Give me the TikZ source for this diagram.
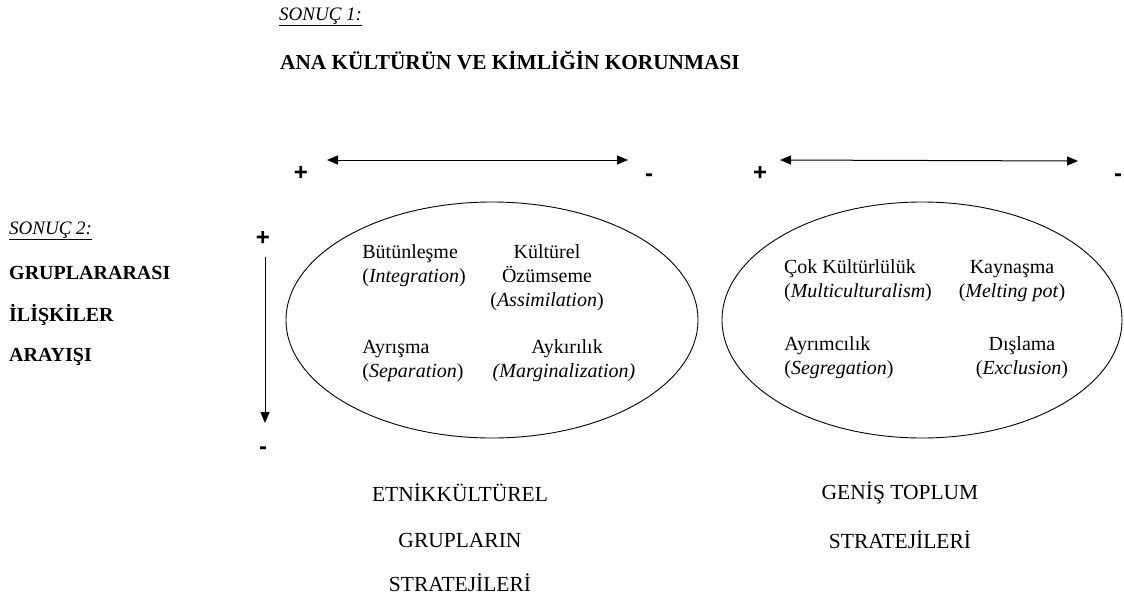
\documentclass[tikz,border=0pt]{standalone}
\usepackage{fontspec}
\setmainfont{Liberation Serif}
\newfontfamily\signfont{Liberation Sans}
\usetikzlibrary{arrows.meta}
\begin{document}
\begin{tikzpicture}[x=1pt,y=-1pt,
  lbl/.style={inner sep=0pt,font=\fontsize{20}{24}\selectfont,align=center},
  head/.style={inner sep=0pt,anchor=west,font=\fontsize{19}{22}\selectfont},
  bold/.style={head,font=\bfseries\fontsize{20}{22}\selectfont},
  bottom/.style={inner sep=0pt,font=\fontsize{21.5}{24}\selectfont},
  sign/.style={inner sep=0pt,font=\signfont\bfseries\fontsize{24}{26}\selectfont},
  arr/.style={line width=1pt,-{Triangle[length=11pt,width=9pt]}},
  darr/.style={line width=1pt,{Triangle[length=11pt,width=9pt]}-{Triangle[length=11pt,width=9pt]}},
  ell/.style={draw,line width=0.9pt}]
\useasboundingbox (0,0) rectangle (1124,598);

% headings
\node[head] (s1) at (279,17) {\itshape\underline{SONUÇ 1:}};
\node[head,font=\bfseries\fontsize{21.3}{22}\selectfont] (t1) at (280,60) {ANA KÜLTÜRÜN VE KİMLİĞİN KORUNMASI};
\node[head] (s2) at (9,231) {\itshape\underline{SONUÇ 2:}};
\node[bold] (g1) at (9,273) {GRUPLARARASI};
\node[bold] (g2) at (9,315) {İLİŞKİLER};
\node[bold] (g3) at (9,357) {ARAYIŞI};

% horizontal arrows and signs
\coordinate (a1l) at (327,160);
\coordinate (a1r) at (628,160);
\draw[darr] (a1l) -- (a1r);
\coordinate (a2l) at (780,160);
\coordinate (a2r) at (1078,161);
\draw[darr] (a2l) -- (a2r);
\node[sign] (p1) at (301,173) {+};
\node[sign] (m1) at (649,178) {-};
\node[sign] (p2) at (760,173) {+};
\node[sign] (m2) at (1118,178) {-};

% vertical arrow
\node[sign] (p3) at (263,238) {+};
\node[sign] (m3) at (263,451) {-};
\coordinate (vt) at (265,257);
\coordinate (vb) at (265,423);
\draw[arr] (vt) -- (vb);

% ellipses
\draw[ell] (492,320) ellipse [x radius=206,y radius=118];
\draw[ell] (922,320) ellipse [x radius=200,y radius=118];

% ellipse 1 texts
\node[lbl,align=left] (e1a) at (414,266) {Bütünleşme\\(\textit{Integration})};
\node[lbl] (e1b) at (547,278) {Kültürel\\Özümseme\\(\textit{Assimilation})};
\node[lbl,align=left] (e1c) at (413,361) {Ayrışma\\(\textit{Separation})};
\node[lbl] (e1d) at (564,361) {\hspace*{6pt}Aykırılık\\\textit{(Marginalization)}};
% ellipse 2 texts
\node[lbl,align=left] (e2a) at (858,281) {Çok Kültürlülük\\(\textit{Multiculturalism})};
\node[lbl] (e2b) at (1012,281) {Kaynaşma\\(\textit{Melting pot})};
\node[lbl,align=left] (e2c) at (839,358) {Ayrımcılık\\(\textit{Segregation})};
\node[lbl] (e2d) at (1022,358) {Dışlama\\(\textit{Exclusion})};

% bottom captions
\node[bottom] (b1) at (460,493) {ETNİKKÜLTÜREL};
\node[bottom] (b2) at (460,540) {GRUPLARIN};
\node[bottom] (b3) at (460,583) {STRATEJİLERİ};
\node[bottom] (b4) at (900,493) {GENİŞ TOPLUM};
\node[bottom] (b5) at (900,540) {STRATEJİLERİ};
\end{tikzpicture}
\end{document}
